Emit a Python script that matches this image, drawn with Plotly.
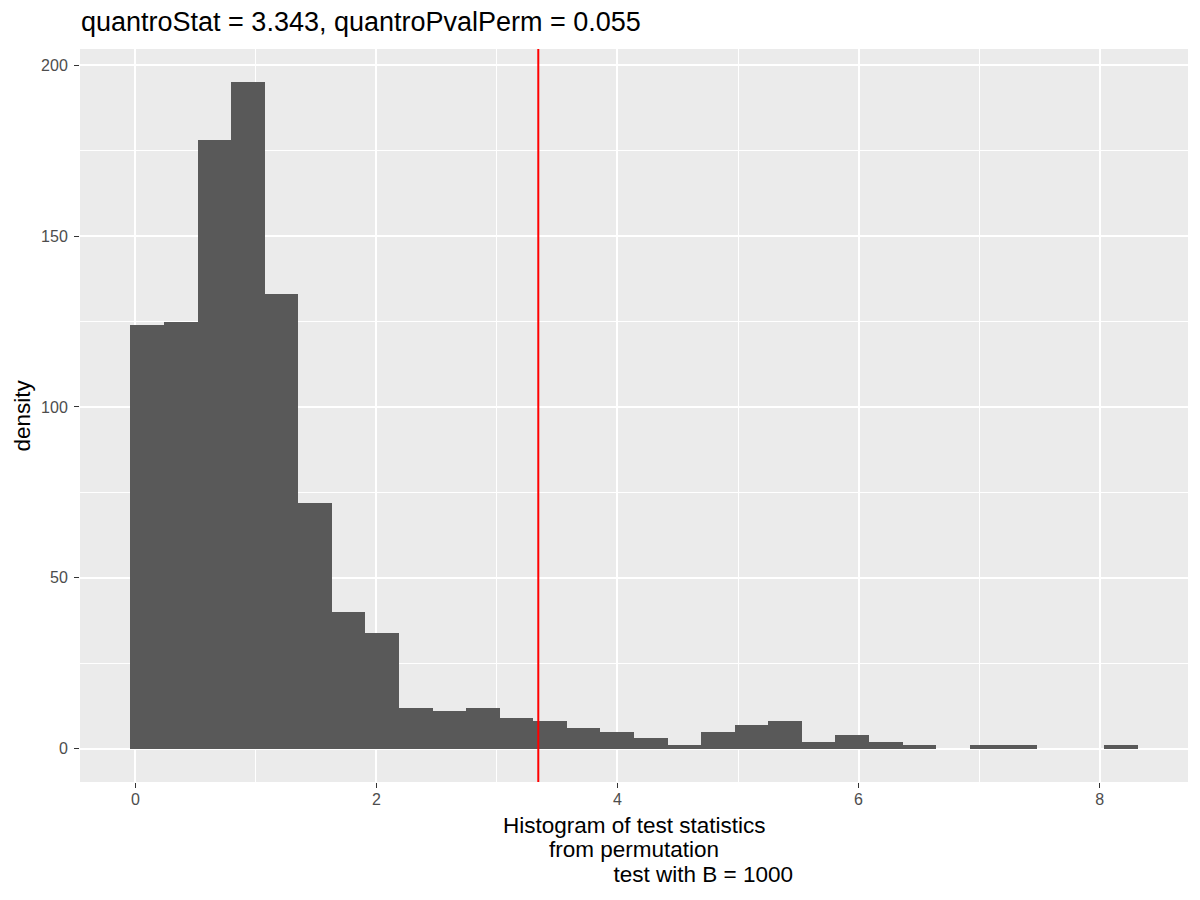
import numpy as np
import plotly.graph_objects as go

# permutation test statistics, 30 bins (counts)
bin_lo = -0.041
bin_hi = 8.315
counts = [124, 125, 178, 195, 133, 72, 40, 34, 12, 11,
          12, 9, 8, 6, 5, 3, 1, 5, 7, 8,
          2, 4, 2, 1, 0, 1, 1, 0, 0, 1]
quantro_stat = 3.343
quantro_pval = 0.055
n_perm = 1000

x_ticks = [0, 2, 4, 6, 8]
y_ticks = [0, 50, 100, 150, 200]

edges = np.linspace(bin_lo, bin_hi, len(counts) + 1)
centers = (edges[:-1] + edges[1:]) / 2
width = edges[1] - edges[0]

FONT = "Liberation Sans"
sp = "&nbsp;"
# page body has an 8px margin, so the figure is drawn 8px in from the corner
W, H = 1184, 884

fig = go.Figure()
fig.add_trace(go.Bar(
    x=centers, y=counts, width=width,
    marker=dict(color="#595959", line=dict(width=0)),
    showlegend=False, hoverinfo="x+y",
))
fig.add_vline(x=quantro_stat, line_color="#FF0000", line_width=2)

# x title: three lines, the last one padded with leading spaces
x_title_lines = ["Histogram of test statistics", "from permutation",
                 sp * 22 + f"test with B = {n_perm}"]
for i, line in enumerate(x_title_lines):
    fig.add_annotation(text=line, x=0.5, y=0, xref="paper", yref="paper",
                       xanchor="center", yanchor="middle", yshift=-43 - 24.5 * i,
                       showarrow=False, font=dict(family=FONT, size=22.5, color="black"))
fig.add_annotation(text="density", x=0, y=0.5, xref="paper", yref="paper",
                   xanchor="center", yanchor="middle", xshift=-58, textangle=-90,
                   showarrow=False, font=dict(family=FONT, size=22.5, color="black"))

axis_common = dict(
    showgrid=True, gridcolor="white", gridwidth=1.5, zeroline=False,
    ticks="outside", ticklen=5, tickwidth=1.3, tickcolor="#333333",
    tickfont=dict(family=FONT, size=16, color="#4D4D4D"),
    showline=False,
)

fig.update_layout(
    width=W, height=H,
    paper_bgcolor="white", plot_bgcolor="#EBEBEB",
    margin=dict(l=72, r=4, t=41, b=110),
    bargap=0,
    font=dict(family=FONT, color="black"),
    title=dict(
        text=f"quantroStat = {quantro_stat}, quantroPvalPerm = {quantro_pval}",
        font=dict(family=FONT, size=27, color="black"),
        x=73 / W, xref="container", xanchor="left",
        y=1 - 14 / H, yref="container", yanchor="middle",
    ),
    xaxis=dict(
        range=[-0.459, 8.733], tickvals=x_ticks, ticklabelstandoff=-2,
        minor=dict(dtick=1, tick0=0, showgrid=True, gridcolor="white", gridwidth=0.8, ticks=""),
        **axis_common,
    ),
    yaxis=dict(
        range=[-9.75, 204.75], tickvals=y_ticks, ticklabelstandoff=3,
        minor=dict(dtick=25, tick0=0, showgrid=True, gridcolor="white", gridwidth=0.8, ticks=""),
        **axis_common,
    ),
)

fig.write_html("out.html")
